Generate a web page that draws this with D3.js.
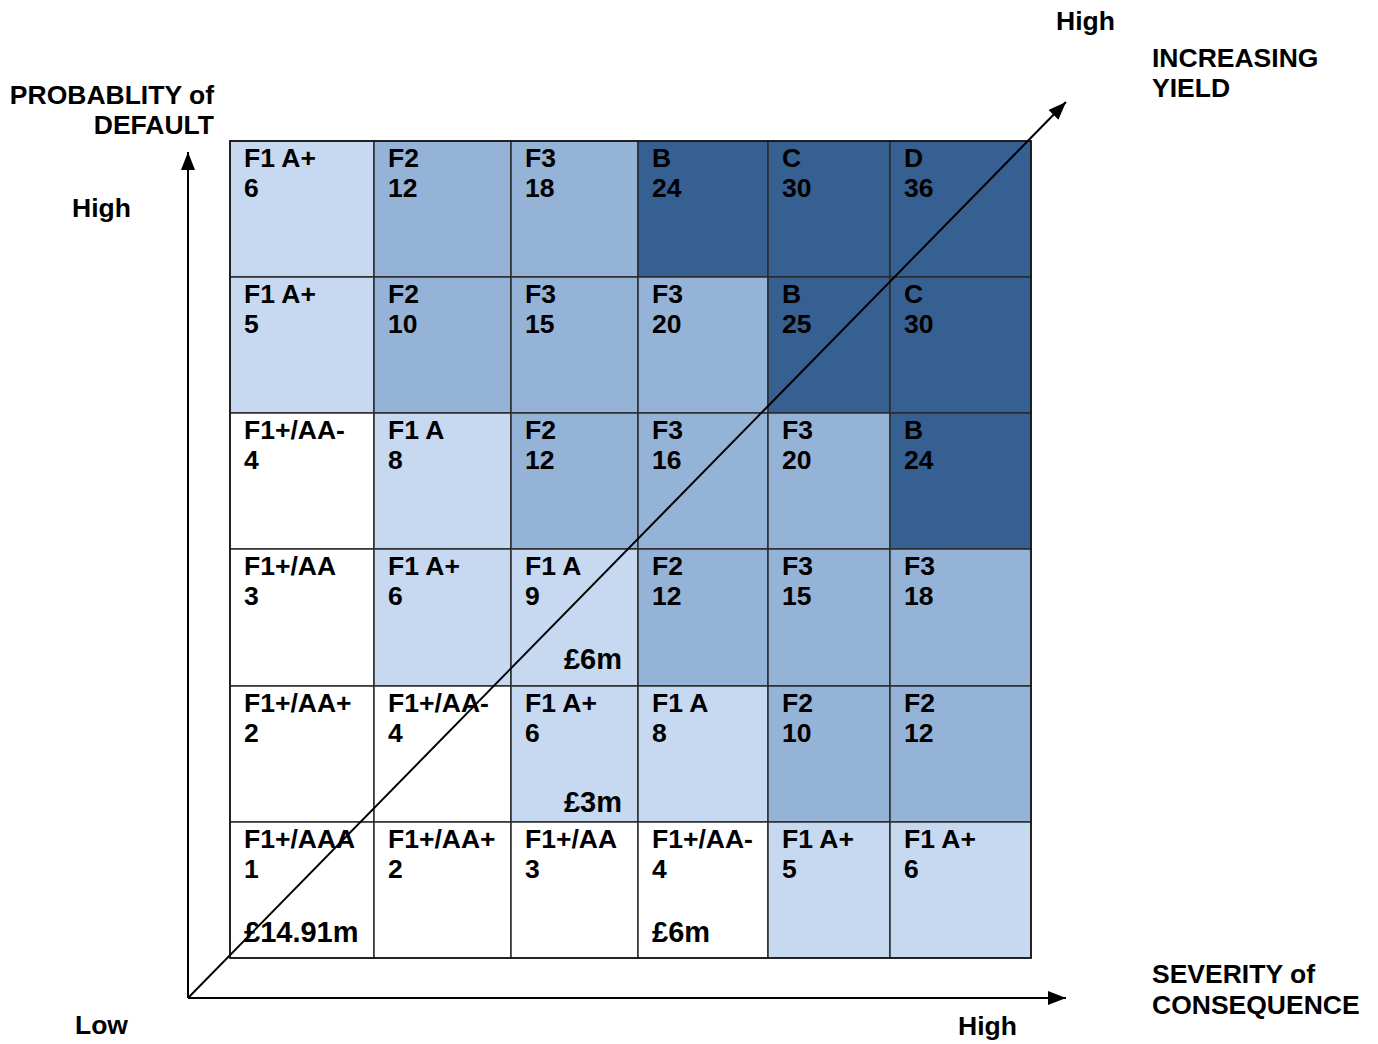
<!DOCTYPE html>
<html>
<head>
<meta charset="utf-8">
<script src="https://cdn.jsdelivr.net/npm/d3@7"></script>
<style>
  body { margin: 0; background: #fff; }
  svg text { font-family: "Liberation Sans", Arial, sans-serif; font-weight: bold; font-size: 26.5px; fill: #000; }
  svg text.exp { font-size: 29px; }
</style>
</head>
<body>
<svg id="chart"></svg>
<script>
// rows listed top (high probability) to bottom (low)
var ratings = [
  ["F1 A+", "F2", "F3", "B", "C", "D"],
  ["F1 A+", "F2", "F3", "F3", "B", "C"],
  ["F1+/AA-", "F1 A", "F2", "F3", "F3", "B"],
  ["F1+/AA", "F1 A+", "F1 A", "F2", "F3", "F3"],
  ["F1+/AA+", "F1+/AA-", "F1 A+", "F1 A", "F2", "F2"],
  ["F1+/AAA", "F1+/AA+", "F1+/AA", "F1+/AA-", "F1 A+", "F1 A+"]
];
var scores = [
  [6, 12, 18, 24, 30, 36],
  [5, 10, 15, 20, 25, 30],
  [4, 8, 12, 16, 20, 24],
  [3, 6, 9, 12, 15, 18],
  [2, 4, 6, 8, 10, 12],
  [1, 2, 3, 4, 5, 6]
];
// exposures: [row, col, text, align]
var exposures = [
  [3, 2, "£6m", "right"],
  [4, 2, "£3m", "right"],
  [5, 0, "£14.91m", "left"],
  [5, 3, "£6m", "left"]
];
var grades = ["F1+", "F1", "F2", "F3", "B", "C", "D"];
var gradeColours = ["#ffffff", "#c6d9f1", "#95b3d7", "#95b3d7", "#366092", "#366092", "#366092"];

var W = 1378, H = 1044;
var svg = d3.select("#chart").attr("width", W).attr("height", H);

// column/row edges (uneven widths)
var x = d3.scaleLinear().domain([0, 1, 2, 3, 4, 5, 6]).range([230, 374, 511, 638, 768, 890, 1031]);
var y = d3.scaleLinear().domain([0, 1, 2, 3, 4, 5, 6]).range([141, 277, 413, 549, 686, 822, 958]);
var colour = d3.scaleOrdinal().domain(grades).range(gradeColours);
// gap between exposure baseline and cell bottom
var expGap = [17, 10, 16, 16];

function gradeOf(r) {
  if (r.indexOf("F1+") === 0) return "F1+";
  return r.split(" ")[0];
}

var cells = [];
ratings.forEach(function(row, i) {
  row.forEach(function(r, j) {
    cells.push({row: i, col: j, rating: r, score: scores[i][j]});
  });
});

var g = svg.append("g");
var cell = g.selectAll("g.cell")
  .data(cells)
  .enter().append("g")
  .attr("class", "cell");

cell.append("rect")
  .attr("x", function(d) { return x(d.col); })
  .attr("y", function(d) { return y(d.row); })
  .attr("width", function(d) { return x(d.col + 1) - x(d.col); })
  .attr("height", function(d) { return y(d.row + 1) - y(d.row); })
  .style("fill", function(d) { return colour(gradeOf(d.rating)); })
  .style("stroke", "#2b2b2b")
  .style("stroke-width", 1.5);

cell.append("text")
  .attr("x", function(d) { return x(d.col) + 14; })
  .attr("y", function(d) { return y(d.row) + 26; })
  .text(function(d) { return d.rating; });

cell.append("text")
  .attr("x", function(d) { return x(d.col) + 14; })
  .attr("y", function(d) { return y(d.row) + 56; })
  .text(function(d) { return d.score; });

g.selectAll("text.exp")
  .data(exposures)
  .enter().append("text")
  .attr("class", "exp")
  .attr("x", function(d) { return d[3] === "right" ? x(d[1] + 1) - 16 : x(d[1]) + 14; })
  .attr("y", function(d, i) { return y(d[0] + 1) - expGap[i]; })
  .style("text-anchor", function(d) { return d[3] === "right" ? "end" : "start"; })
  .text(function(d) { return d[2]; });

// outer border
g.append("rect")
  .attr("x", x(0)).attr("y", y(0))
  .attr("width", x(6) - x(0)).attr("height", y(6) - y(0))
  .style("fill", "none").style("stroke", "#111").style("stroke-width", 1.5);

// arrows
svg.append("defs").append("marker")
  .attr("id", "arrow")
  .attr("viewBox", "0 0 18 14")
  .attr("refX", 18).attr("refY", 7)
  .attr("markerWidth", 18).attr("markerHeight", 14)
  .attr("markerUnits", "userSpaceOnUse")
  .attr("orient", "auto")
  .append("path")
  .attr("d", "M0,0 L18,7 L0,14 Z")
  .style("fill", "#000");

var origin = [188, 998];
var axes = [
  [origin, [188, 152]],
  [origin, [1066, 998]],
  [origin, [1066, 102]]
];
svg.selectAll("line.axis")
  .data(axes)
  .enter().append("line")
  .attr("class", "axis")
  .attr("x1", function(d) { return d[0][0]; })
  .attr("y1", function(d) { return d[0][1]; })
  .attr("x2", function(d) { return d[1][0]; })
  .attr("y2", function(d) { return d[1][1]; })
  .style("stroke", "#000")
  .style("stroke-width", 2)
  .attr("marker-end", "url(#arrow)");

// labels
var labels = [
  {t: "PROBABLITY of", x: 214, y: 104, a: "end"},
  {t: "DEFAULT", x: 214, y: 134, a: "end"},
  {t: "High", x: 72, y: 217, a: "start"},
  {t: "Low", x: 75, y: 1034, a: "start"},
  {t: "High", x: 958, y: 1035, a: "start"},
  {t: "High", x: 1056, y: 30, a: "start"},
  {t: "INCREASING", x: 1152, y: 67, a: "start"},
  {t: "YIELD", x: 1152, y: 97, a: "start"},
  {t: "SEVERITY of", x: 1152, y: 983, a: "start"},
  {t: "CONSEQUENCE", x: 1152, y: 1014, a: "start"}
];
svg.selectAll("text.lbl")
  .data(labels)
  .enter().append("text")
  .attr("class", "lbl")
  .attr("x", function(d) { return d.x; })
  .attr("y", function(d) { return d.y; })
  .style("text-anchor", function(d) { return d.a; })
  .text(function(d) { return d.t; });
</script>
</body>
</html>
